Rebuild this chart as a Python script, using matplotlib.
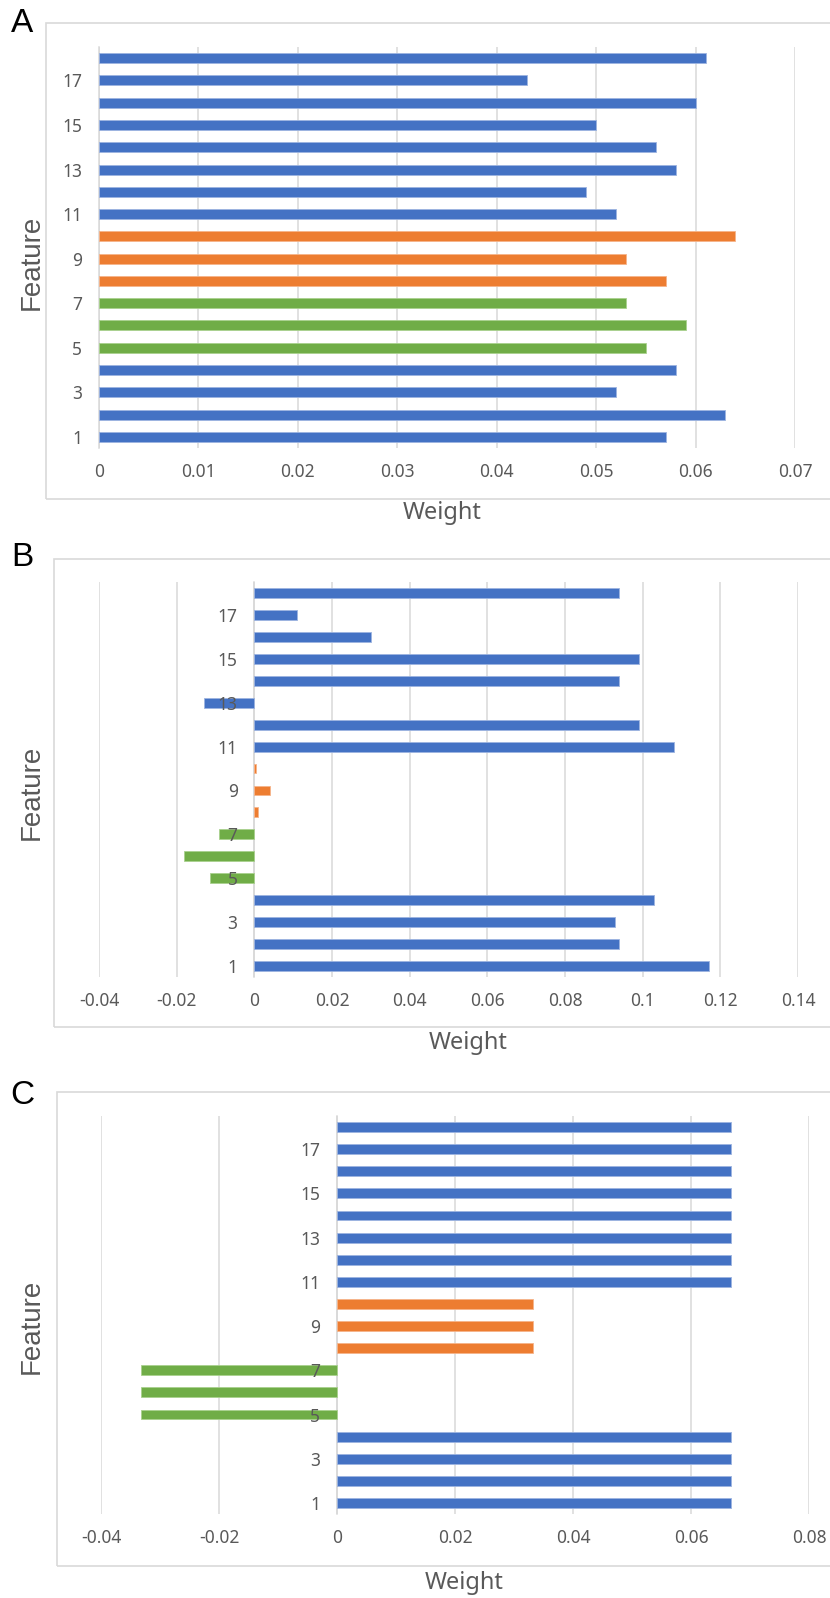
import matplotlib
matplotlib.use("Agg")
import matplotlib.pyplot as plt
from matplotlib.patches import Rectangle
import numpy as np

# ---------------------------------------------------------------------------
# Data
# ---------------------------------------------------------------------------
features = list(range(1, 19))
groups = ["b", "b", "b", "b", "g", "g", "g", "o", "o", "o",
          "b", "b", "b", "b", "b", "b", "b", "b"]

weights_a = [0.057, 0.063, 0.052, 0.058, 0.055, 0.059, 0.053, 0.057, 0.053, 0.064,
             0.052, 0.049, 0.058, 0.056, 0.050, 0.060, 0.043, 0.061]
weights_b = [0.117, 0.094, 0.093, 0.103, -0.0115, -0.018, -0.009, 0.001, 0.004, 0.0005,
             0.108, 0.099, -0.013, 0.094, 0.099, 0.030, 0.011, 0.094]
weights_c = [0.0667, 0.0667, 0.0667, 0.0667, -0.0333, -0.0333, -0.0333, 0.0333, 0.0333, 0.0333,
             0.0667, 0.0667, 0.0667, 0.0667, 0.0667, 0.0667, 0.0667, 0.0667]

xticks_a = [0, 0.01, 0.02, 0.03, 0.04, 0.05, 0.06, 0.07]
xlabels_a = ["0", "0.01", "0.02", "0.03", "0.04", "0.05", "0.06", "0.07"]
xticks_b = [-0.04, -0.02, 0, 0.02, 0.04, 0.06, 0.08, 0.1, 0.12, 0.14]
xlabels_b = ["-0.04", "-0.02", "0", "0.02", "0.04", "0.06", "0.08", "0.1", "0.12", "0.14"]
xticks_c = [-0.04, -0.02, 0, 0.02, 0.04, 0.06, 0.08]
xlabels_c = ["-0.04", "-0.02", "0", "0.02", "0.04", "0.06", "0.08"]
yticks = [1, 3, 5, 7, 9, 11, 13, 15, 17]

# ---------------------------------------------------------------------------
# Style
# ---------------------------------------------------------------------------
W, H = 830, 1598
COLORS = {"b": "#4472C4", "o": "#ED7D31", "g": "#70AD47"}
EDGES = {"b": "#9DB4E0", "o": "#F5B48A", "g": "#A9D18E"}
GRID = "#D9D9D9"
TXT = "#595959"
TICK_FONT = ["Noto Sans", "DejaVu Sans"]
LABEL_FONT = ["Liberation Sans", "DejaVu Sans"]

fig = plt.figure(figsize=(W / 100, H / 100), dpi=100, facecolor="white")


def px_rect(left, top, right, bottom):
    return [left / W, 1 - bottom / H, (right - left) / W, (bottom - top) / H]


panels = [
    # letter, weights, ticks, labels, axes box, frame box, letter y, weight xy, feature y
    ("A", weights_a, xticks_a, xlabels_a, (99, 47, 795, 448), (46, 23, 499), 24, (442, 513), 262),
    ("B", weights_b, xticks_b, xlabels_b, (99, 582, 798, 977), (54, 559, 1027), 557, (468, 1043), 792),
    ("C", weights_c, xticks_c, xlabels_c, (101, 1116, 809, 1514), (57, 1092, 1566), 1096, (464, 1583), 1326),
]

for letter, vals, xt, xl, box, frame, ly, wxy, fy in panels:
    # outer chart frame (runs off the right edge as in the screenshot)
    fl, ft, fb = frame
    fig.add_artist(Rectangle((fl / W, 1 - fb / H), (W + 40 - fl) / W, (fb - ft) / H,
                             transform=fig.transFigure, fill=False,
                             edgecolor=GRID, linewidth=1.2, clip_on=False))

    ax = fig.add_axes(px_rect(*box))
    ax.set_facecolor("none")
    ax.set_axisbelow(False)

    # move the category axis to x = 0 first (this resets tick styling)
    for s in ("top", "right", "bottom"):
        ax.spines[s].set_visible(False)
    ax.spines["left"].set_position(("data", 0))
    ax.spines["left"].set_color(GRID)
    ax.spines["left"].set_linewidth(1.1)
    ax.spines["left"].set_zorder(0.6)

    cols = [COLORS[g] for g in groups]
    edges = [EDGES[g] for g in groups]
    ax.barh(features, vals, height=0.45, color=cols, edgecolor=edges,
            linewidth=0.6, zorder=1.2)

    for t in xt:
        ax.axvline(t, color=GRID, linewidth=1.1, zorder=0.5)

    ax.set_xlim(xt[0], xt[-1])
    ax.set_ylim(0.5, 18.5)
    ax.set_xticks(xt)
    ax.set_xticklabels(xl, family=TICK_FONT, fontsize=12.5, color=TXT)
    ax.set_yticks(yticks)
    ax.set_yticklabels([str(v) for v in yticks], family=TICK_FONT,
                       fontsize=12.5, color=TXT)
    ax.tick_params(axis="x", length=0, pad=11)
    ax.tick_params(axis="y", length=0, pad=12)

    fig.text(22 / W, 1 - ly / H, letter, fontsize=24, family=LABEL_FONT,
             ha="center", va="center", color="black")
    fig.text(wxy[0] / W, 1 - wxy[1] / H, "Weight", fontsize=17, family=TICK_FONT,
             ha="center", va="center", color=TXT)
    fig.text(32 / W, 1 - fy / H, "Feature", fontsize=20, family=LABEL_FONT,
             rotation=90, ha="center", va="center", color=TXT)

fig.savefig("out.png", dpi=100, facecolor="white")
